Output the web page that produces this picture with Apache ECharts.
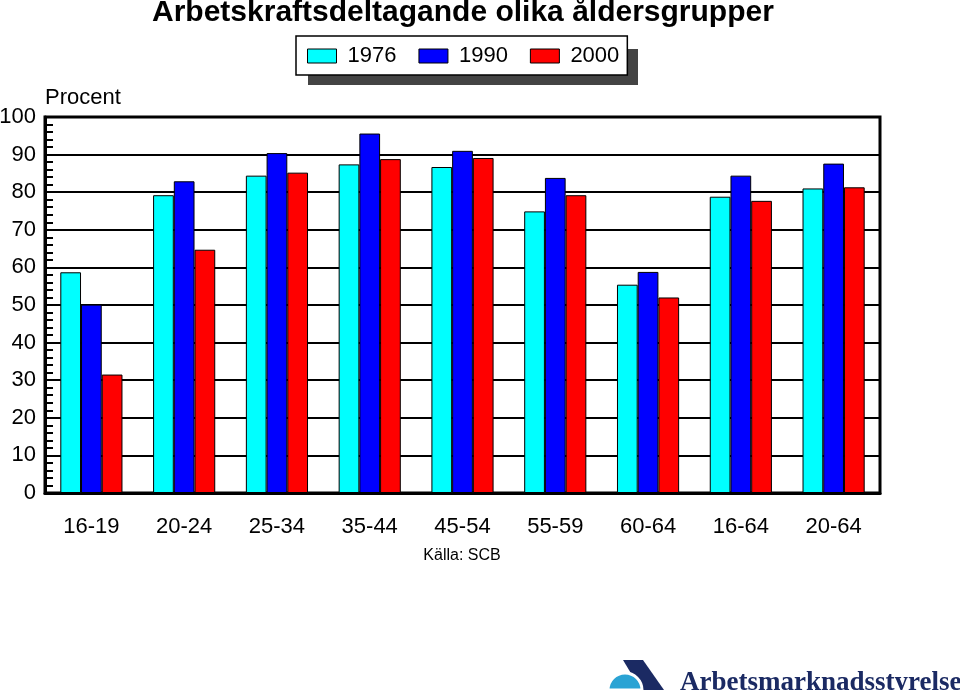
<!DOCTYPE html>
<html>
<head>
<meta charset="utf-8">
<script src="https://cdn.jsdelivr.net/npm/echarts@6/dist/echarts.min.js"></script>
<style>html,body{margin:0;padding:0;background:#fff}#c{width:960px;height:690px}</style>
</head>
<body>
<div id="c"></div>
<script>
const categories = ['16-19','20-24','25-34','35-44','45-54','55-59','60-64','16-64','20-64'];
const years = ['1976','1990','2000'];
const v1976 = [58.7, 79.2, 84.4, 87.4, 86.7, 74.9, 55.4, 78.8, 81.0];
const v1990 = [50.1, 82.9, 90.4, 95.6, 91.0, 83.8, 58.8, 84.4, 87.6];
const v2000 = [31.5, 64.7, 85.2, 88.8, 89.1, 79.2, 52.0, 77.7, 81.3];
const yTicks = [0,10,20,30,40,50,60,70,80,90,100];

const colors = ['#00ffff','#0000ff','#ff0000'];
const font = 'Liberation Sans, Arial, sans-serif';
const chart = echarts.init(document.getElementById('c'));
const seriesData = [v1976, v1990, v2000];

chart.setOption({
  animation: false,
  backgroundColor: '#fff',
  title: {
    text: 'Arbetskraftsdeltagande olika åldersgrupper',
    left: 152, top: -2, padding: 0,
    textStyle: {fontFamily: 'Liberation Sans, Arial', fontWeight: 'bold', fontSize: 30, color: '#000'}
  },
  legend: {
    data: years,
    left: 296, top: 36,
    z: 10,
    icon: 'rect',
    padding: [9, 8, 8, 11],
    itemGap: 22,
    itemWidth: 29, itemHeight: 14,
    backgroundColor: '#fff',
    borderColor: '#000', borderWidth: 1.5,
    textStyle: {fontFamily: font, fontSize: 22, color: '#000', padding: [0,0,0,6]},
    itemStyle: {borderColor: '#000', borderWidth: 1}
  },
  grid: {left: 45, right: 80, top: 117, bottom: 197, outerBoundsMode: 'none', containLabel: false,
    show: true, borderColor: '#000', borderWidth: 3, backgroundColor: 'transparent'},
  xAxis: {
    type: 'category', data: categories,
    axisTick: {show: false},
    axisLine: {lineStyle: {color: '#000', width: 3}},
    axisLabel: {fontFamily: font, fontSize: 22, color: '#000', margin: 23, interval: 0}
  },
  yAxis: {
    type: 'value', min: 0, max: 100, interval: 10,
    name: 'Procent', nameLocation: 'end', nameGap: 8,
    nameTextStyle: {fontFamily: font, fontSize: 22, color: '#000', align: 'left', verticalAlign: 'bottom'},
    axisLine: {show: true, lineStyle: {color: '#000', width: 3}},
    axisTick: {show: true, inside: true, length: 8, lineStyle: {color: '#000', width: 2}},
    minorTick: {show: true, splitNumber: 5, length: 8, lineStyle: {color: '#000', width: 2}},
    splitLine: {show: true, lineStyle: {color: '#000', width: 2}},
    axisLabel: {fontFamily: font, fontSize: 22, color: '#000', margin: 9,
      formatter: v => yTicks.indexOf(v) >= 0 ? String(v) : ''}
  },
  series: years.map((y, i) => ({
    name: y, type: 'bar', data: seriesData[i],
    barGap: '0%', barCategoryGap: '33%',
    itemStyle: {color: colors[i], borderColor: '#000', borderWidth: 1}
  })),
  graphic: [
    {type: 'rect', z: 1, shape: {x: 308, y: 49, width: 330, height: 36}, style: {fill: '#444'}},
    {type: 'text', z: 5, x: 462, y: 548,
      style: {text: 'Källa: SCB', font: '16px Liberation Sans, Arial', fill: '#000', textAlign: 'center', textVerticalAlign: 'top'}},
    {type: 'polygon', z: 5, shape: {points: [[623,660],[643,660],[664,690],[641,690]]}, style: {fill: '#1b2a63'}},
    {type: 'sector', z: 6, shape: {cx: 625, cy: 690, r0: 0, r: 17, startAngle: Math.PI, endAngle: 2*Math.PI}, style: {fill: '#2aa3d4', stroke: '#fff', lineWidth: 3}},
    {type: 'text', z: 5, x: 680, y: 670,
      style: {text: 'Arbetsmarknadsstyrelsen', font: 'bold 27px Liberation Serif, Times New Roman, serif', fill: '#1b2a63', textVerticalAlign: 'top'}}
  ]
});
</script>
</body>
</html>
